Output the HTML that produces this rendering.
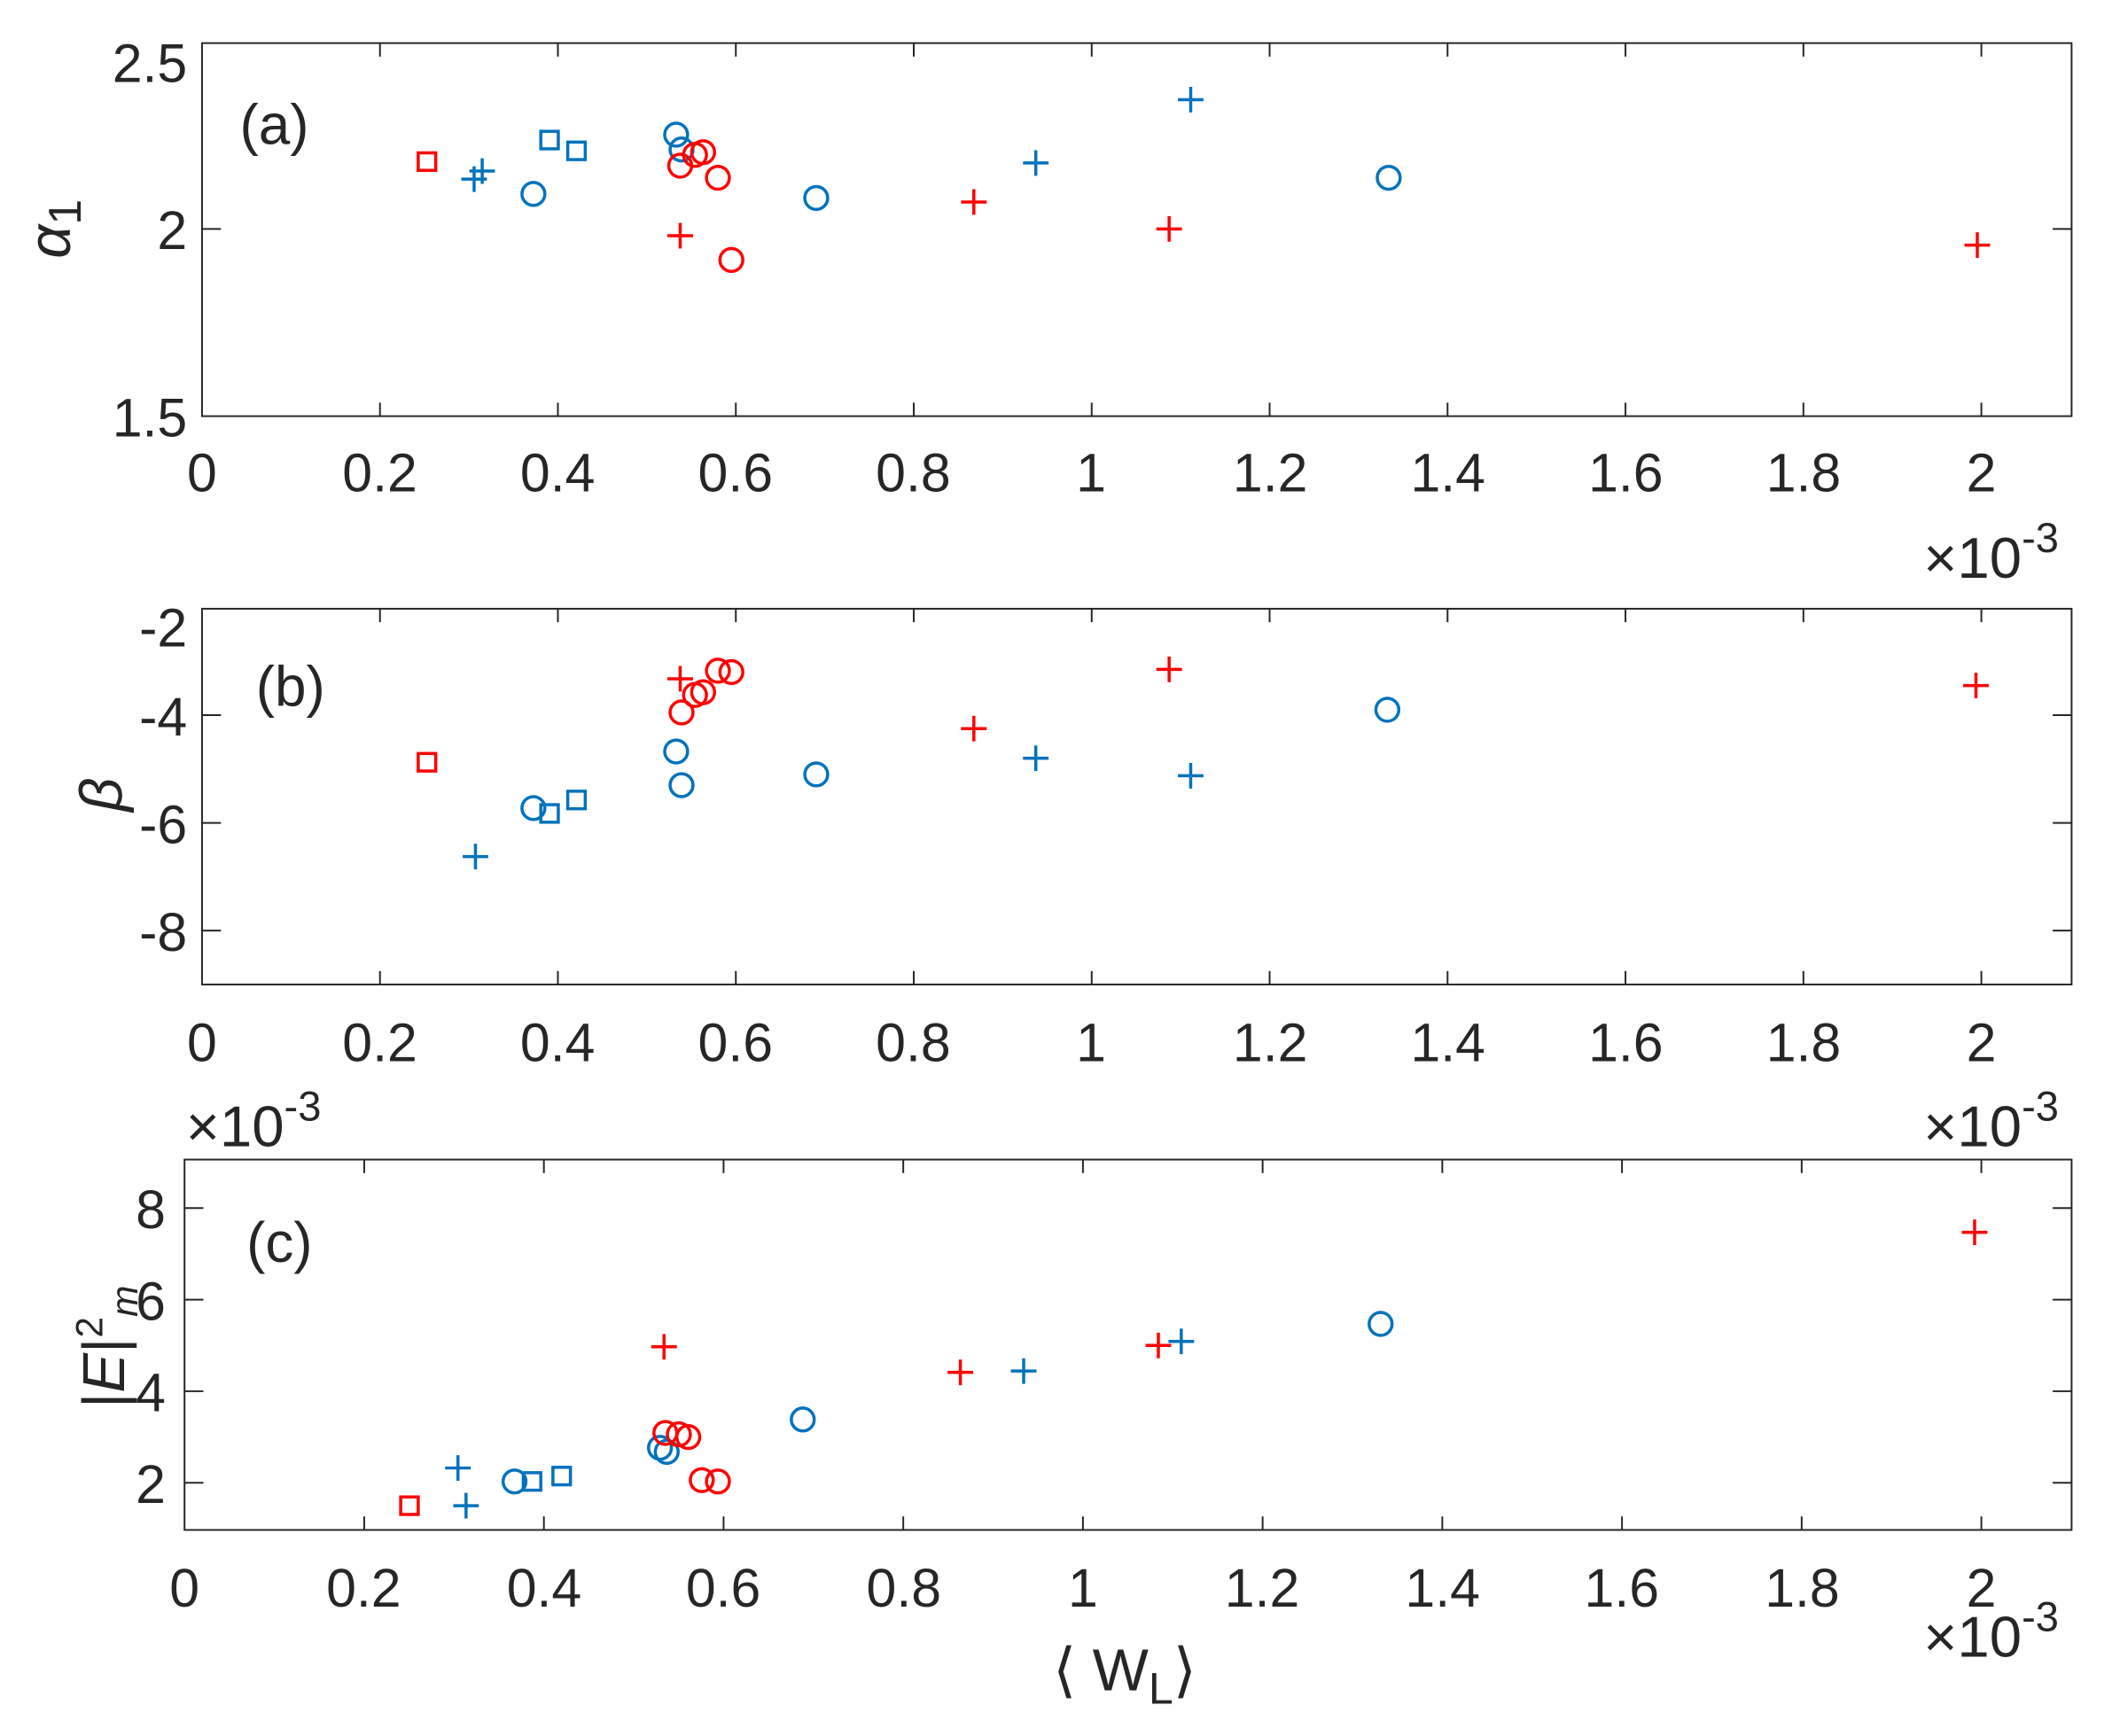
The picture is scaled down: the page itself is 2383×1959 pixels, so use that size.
<!DOCTYPE html>
<html><head><meta charset="utf-8"><style>
html,body{margin:0;padding:0;background:#fff}
svg{display:block}
text{font-family:"Liberation Sans",sans-serif;fill:#262626}
</style></head><body>
<svg width="2383" height="1959" viewBox="0 0 1568 1289" preserveAspectRatio="none" xmlns="http://www.w3.org/2000/svg">
<defs>
<g id="c"><circle cx="0" cy="0" r="8.5" fill="none"/></g>
<g id="s"><rect x="-6.5" y="-6.5" width="13" height="13" fill="none"/></g>
<g id="p"><path d="M-9.5 0H9.5M0 -9.5V9.5" fill="none"/></g>
</defs>
<rect width="1568" height="1289" fill="#fff"/>
<g stroke="#262626" stroke-width="1.3" fill="none">
<rect x="150" y="32" width="1388" height="277"/>
<rect x="150" y="452" width="1388" height="279"/>
<rect x="137" y="861" width="1401" height="275"/>
<path d="M282.1 32v10M414.2 32v10M546.3 32v10M678.4 32v10M810.5 32v10M942.6 32v10M1074.7 32v10M1206.8 32v10M1338.9 32v10M1471 32v10
M282.1 309v-10M414.2 309v-10M546.3 309v-10M678.4 309v-10M810.5 309v-10M942.6 309v-10M1074.7 309v-10M1206.8 309v-10M1338.9 309v-10M1471 309v-10
M150 170h14M1538 170h-14"/>
<path d="M282.1 452v10M414.2 452v10M546.3 452v10M678.4 452v10M810.5 452v10M942.6 452v10M1074.7 452v10M1206.8 452v10M1338.9 452v10M1471 452v10
M282.1 731v-10M414.2 731v-10M546.3 731v-10M678.4 731v-10M810.5 731v-10M942.6 731v-10M1074.7 731v-10M1206.8 731v-10M1338.9 731v-10M1471 731v-10
M150 531h14M150 611h14M150 691h14M1538 531h-14M1538 611h-14M1538 691h-14"/>
<path d="M270.4 861v10M403.8 861v10M537.2 861v10M670.6 861v10M804 861v10M937.4 861v10M1070.8 861v10M1204.2 861v10M1337.6 861v10M1471 861v10
M270.4 1136v-10M403.8 1136v-10M537.2 1136v-10M670.6 1136v-10M804 1136v-10M937.4 1136v-10M1070.8 1136v-10M1204.2 1136v-10M1337.6 1136v-10M1471 1136v-10
M137 897h14M137 965h14M137 1033h14M137 1101h14M1538 897h-14M1538 965h-14M1538 1033h-14M1538 1101h-14"/>
</g>
<g font-size="40">
<g text-anchor="end">
<text x="139" y="61">2.5</text><text x="139" y="185">2</text><text x="139" y="324">1.5</text>
<text x="139" y="480">-2</text><text x="139" y="546">-4</text><text x="139" y="626">-6</text><text x="139" y="706">-8</text>
<text x="123" y="912">8</text><text x="123" y="980">6</text><text x="123" y="1048">4</text><text x="123" y="1116">2</text>
</g>
<g text-anchor="middle">
<text x="150" y="365">0</text><text x="282" y="365">0.2</text><text x="414" y="365">0.4</text><text x="546" y="365">0.6</text><text x="678" y="365">0.8</text><text x="810" y="365">1</text><text x="943" y="365">1.2</text><text x="1075" y="365">1.4</text><text x="1207" y="365">1.6</text><text x="1339" y="365">1.8</text><text x="1471" y="365">2</text>
<text x="150" y="788">0</text><text x="282" y="788">0.2</text><text x="414" y="788">0.4</text><text x="546" y="788">0.6</text><text x="678" y="788">0.8</text><text x="810" y="788">1</text><text x="943" y="788">1.2</text><text x="1075" y="788">1.4</text><text x="1207" y="788">1.6</text><text x="1339" y="788">1.8</text><text x="1471" y="788">2</text>
<text x="137" y="1193">0</text><text x="270" y="1193">0.2</text><text x="404" y="1193">0.4</text><text x="537" y="1193">0.6</text><text x="671" y="1193">0.8</text><text x="804" y="1193">1</text><text x="937" y="1193">1.2</text><text x="1071" y="1193">1.4</text><text x="1204" y="1193">1.6</text><text x="1338" y="1193">1.8</text><text x="1471" y="1193">2</text>
</g>
<g font-size="43">
<text x="1428" y="429">×10<tspan font-size="31" dy="-19">-3</tspan></text>
<text x="1428" y="851">×10<tspan font-size="31" dy="-19">-3</tspan></text>
<text x="1428" y="1230">×10<tspan font-size="31" dy="-19">-3</tspan></text>
<text x="138" y="851">×10<tspan font-size="31" dy="-19">-3</tspan></text>
</g>
<text x="178" y="107" fill="#000" font-size="42">(a)</text>
<text x="190" y="524" fill="#000" font-size="42">(b)</text>
<text x="183" y="937" fill="#000" font-size="42">(c)</text>
<text transform="translate(52,170) rotate(-90)" text-anchor="middle" font-family="Liberation Serif" font-style="italic" font-size="44">α<tspan font-family="Liberation Sans" font-style="normal" font-size="34" dy="8">1</tspan></text>
<text transform="translate(90,590) rotate(-90)" text-anchor="middle" font-family="Liberation Serif" font-style="italic" font-size="44">β</text>
<text transform="translate(92,1000) rotate(-90)" text-anchor="middle" font-family="Liberation Serif" font-size="44">|<tspan font-style="italic">E</tspan>|<tspan font-size="28" dy="-16">2</tspan><tspan font-size="28" font-style="italic" dy="26">m</tspan></text>
<text x="835" y="1255" text-anchor="middle" font-size="44">⟨ W<tspan font-size="33" dy="10">L</tspan><tspan dy="-10">⟩</tspan></text>
</g>
<g stroke="#0072BD" stroke-width="2.3">
<use href="#p" x="352" y="133"/><use href="#p" x="358" y="127"/><use href="#c" x="396" y="144"/>
<use href="#s" x="408" y="104"/><use href="#s" x="428" y="112"/><use href="#c" x="502" y="100"/><use href="#c" x="506" y="111"/>
<use href="#c" x="606" y="147"/><use href="#p" x="769" y="121"/><use href="#p" x="884" y="74"/><use href="#c" x="1031" y="132"/>
<use href="#p" x="353" y="636"/><use href="#c" x="396" y="600"/><use href="#s" x="408" y="604"/><use href="#s" x="428" y="594"/>
<use href="#c" x="502" y="558"/><use href="#c" x="506" y="583"/><use href="#c" x="606" y="575"/><use href="#p" x="769" y="563"/>
<use href="#p" x="884" y="576"/><use href="#c" x="1030" y="527"/>
<use href="#p" x="340" y="1090"/><use href="#p" x="346" y="1118"/><use href="#c" x="382" y="1100"/><use href="#s" x="395" y="1100"/>
<use href="#s" x="417" y="1096"/><use href="#c" x="490" y="1075"/><use href="#c" x="495" y="1078"/><use href="#c" x="596" y="1054"/>
<use href="#p" x="760" y="1018"/><use href="#p" x="877" y="996"/><use href="#c" x="1025" y="983"/>
</g>
<g stroke="#FF0000" stroke-width="2.3">
<use href="#s" x="317" y="120"/><use href="#c" x="505" y="123"/><use href="#c" x="516" y="115"/><use href="#c" x="522" y="113"/>
<use href="#c" x="533" y="132"/><use href="#c" x="543" y="193"/><use href="#p" x="505" y="175"/><use href="#p" x="723" y="150"/>
<use href="#p" x="868" y="170"/><use href="#p" x="1468" y="182"/>
<use href="#s" x="317" y="566"/><use href="#p" x="505" y="504"/><use href="#c" x="506" y="529"/><use href="#c" x="516" y="516"/>
<use href="#c" x="522" y="514"/><use href="#c" x="533" y="498"/><use href="#c" x="543" y="499"/><use href="#p" x="723" y="541"/>
<use href="#p" x="868" y="497"/><use href="#p" x="1467" y="509"/>
<use href="#s" x="304" y="1118"/><use href="#c" x="494" y="1064"/><use href="#c" x="504" y="1065"/><use href="#c" x="511" y="1067"/>
<use href="#c" x="521" y="1099"/><use href="#c" x="533" y="1100"/><use href="#p" x="493" y="1000"/><use href="#p" x="713" y="1019"/>
<use href="#p" x="860" y="999"/><use href="#p" x="1466" y="915"/>
</g>
</svg>
</body></html>
